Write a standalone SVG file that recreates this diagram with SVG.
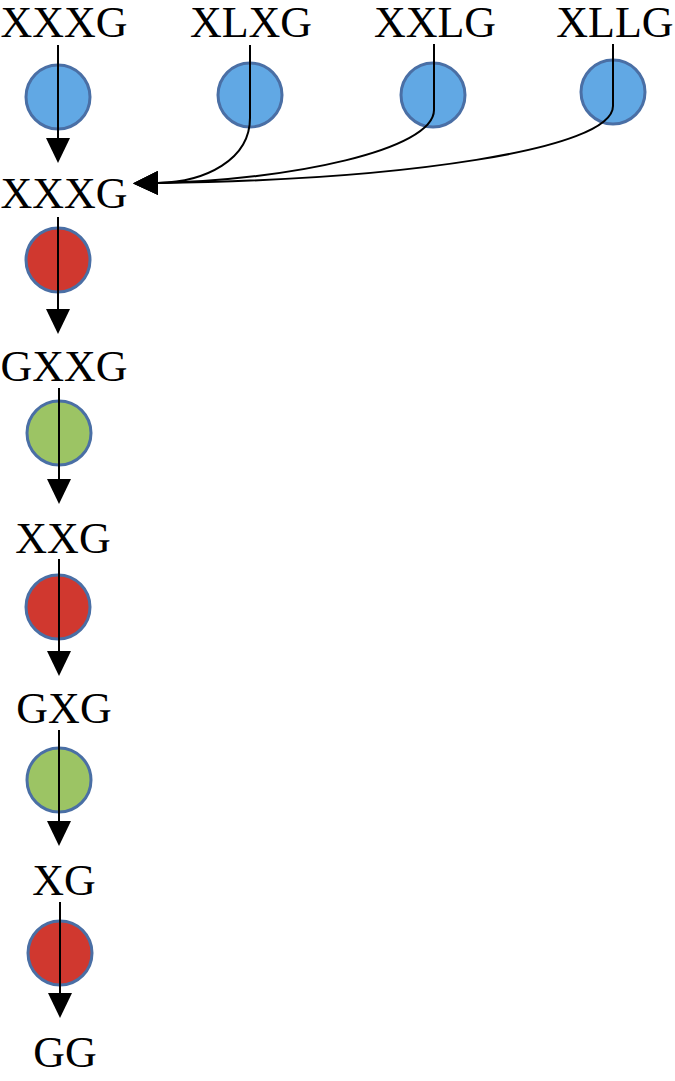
<svg xmlns="http://www.w3.org/2000/svg" width="675" height="1081" viewBox="0 0 675 1081">
<style>
  text { font-family: "Liberation Serif", "Times New Roman", serif; font-size: 44px; fill: #000; text-anchor: middle; }
  circle { stroke: #4A6FA5; stroke-width: 3; }
  .blue { fill: #61A8E4; }
  .red { fill: #D0382F; }
  .green { fill: #9CC464; }
  .edge { fill: none; stroke: #000; stroke-width: 2; marker-end: url(#arrow); }
</style>
<defs>
  <marker id="arrow" markerUnits="userSpaceOnUse" markerWidth="26" markerHeight="24" viewBox="0 0 26 24" refX="0" refY="12" orient="auto">
    <path d="M0,0 L25,12 L0,24 z" fill="#000"/>
  </marker>
</defs>
<rect width="675" height="1081" fill="#fff"/>
<g id="nodes">
  <g id="top-XXXG"><circle class="blue" cx="58" cy="97" r="32"/><text x="64" y="37">XXXG</text></g>
  <g id="top-XLXG"><circle class="blue" cx="250" cy="95" r="32"/><text x="251" y="37">XLXG</text></g>
  <g id="top-XXLG"><circle class="blue" cx="433" cy="95" r="32"/><text x="435" y="37">XXLG</text></g>
  <g id="top-XLLG"><circle class="blue" cx="613" cy="92" r="32"/><text x="615" y="37">XLLG</text></g>
  <g id="s1-XXXG"><circle class="red" cx="58" cy="260" r="32"/><text x="64" y="208">XXXG</text></g>
  <g id="s2-GXXG"><circle class="green" cx="59" cy="433" r="32"/><text x="64" y="381">GXXG</text></g>
  <g id="s3-XXG"><circle class="red" cx="58" cy="607" r="32"/><text x="63" y="553">XXG</text></g>
  <g id="s4-GXG"><circle class="green" cx="59" cy="780" r="32"/><text x="64" y="723">GXG</text></g>
  <g id="s5-XG"><circle class="red" cx="60" cy="953" r="32"/><text x="64" y="895">XG</text></g>
  <g id="s6-GG"><text x="65" y="1067">GG</text></g>
</g>
<g id="connectors">
  <line class="edge" x1="58" y1="45" x2="58" y2="138"/>
  <line class="edge" x1="58" y1="217" x2="58" y2="309"/>
  <line class="edge" x1="59" y1="388" x2="59" y2="479"/>
  <line class="edge" x1="59" y1="559" x2="59" y2="651"/>
  <line class="edge" x1="59" y1="730" x2="59" y2="821"/>
  <line class="edge" x1="60" y1="902" x2="60" y2="993"/>
  <path class="edge" d="M250,45 V118 C250,160 205,182 158,183"/>
  <path class="edge" d="M434,44 V110 C434,150 290,180 158,183"/>
  <path class="edge" d="M613,44 V106 C613,150 400,180 158,183"/>
</g>
</svg>
